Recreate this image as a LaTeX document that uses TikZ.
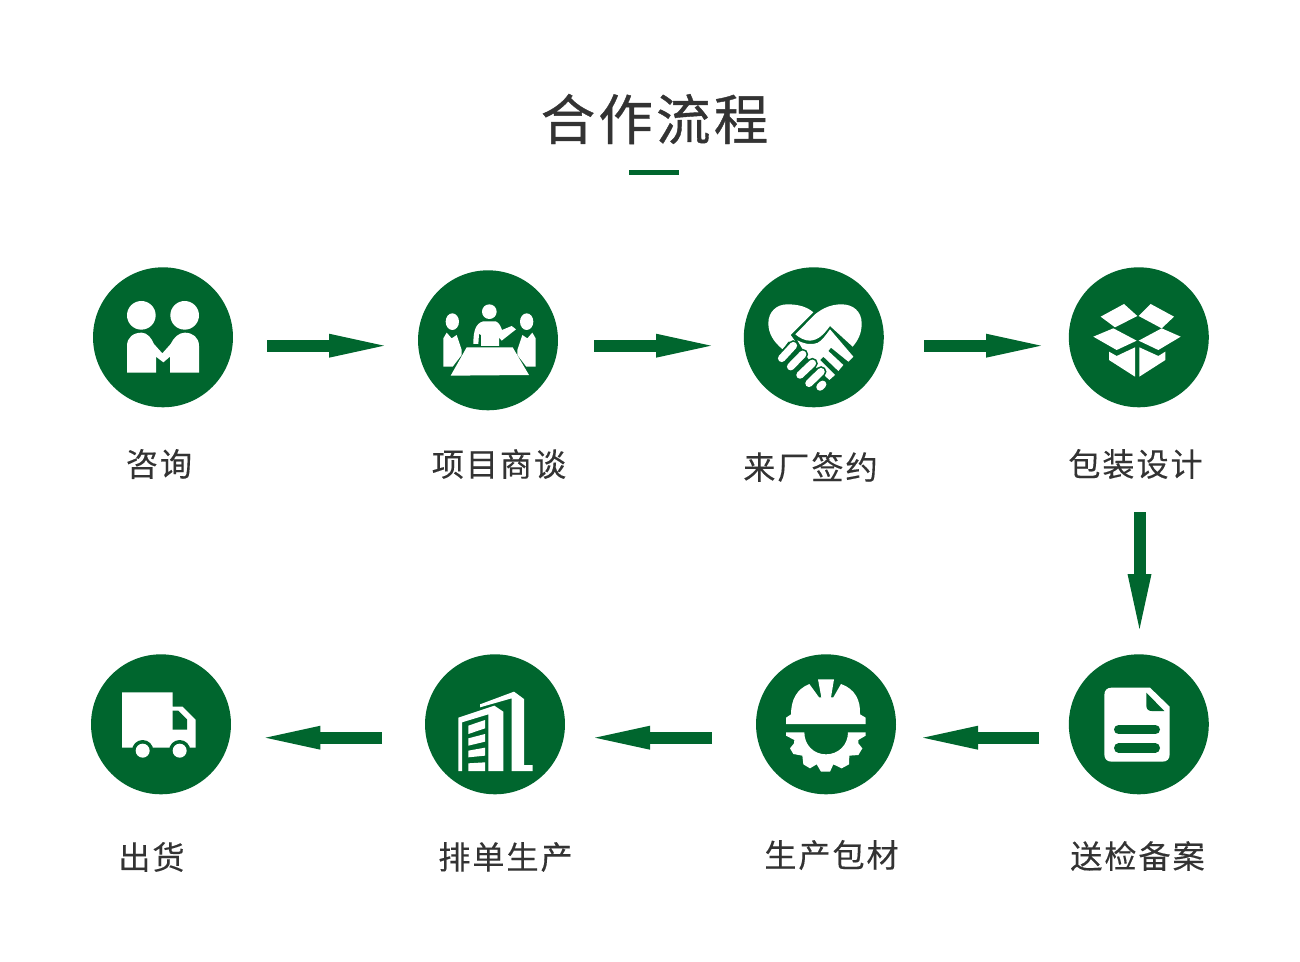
\documentclass[tikz,border=0pt]{standalone}
\usepackage{fontspec}
\usetikzlibrary{arrows.meta}
\newfontfamily\cjk[LetterSpace=6,FakeBold=0.25]{Noto Sans CJK SC}
\newfontfamily\cjktitle[LetterSpace=6,FakeBold=0.7]{Noto Sans CJK SC}
\definecolor{leaf}{HTML}{00662E}
\definecolor{ink}{HTML}{333333}

\tikzset{
	stepdisc/.style={circle,fill=leaf,inner sep=0,minimum size=2.8cm},
	steplabel/.style={text=ink,inner sep=0,font=\cjk\fontsize{18.3}{22}\selectfont},
	flowline/.style={draw=leaf,line width=0.24cm,-{Triangle[length=1.1cm,width=0.48cm,line width=0pt]}},
	finger/.style={white,line width=0.15cm,line cap=round},
	fingergap/.style={leaf,line width=0.22cm,line cap=round},
	iconA/.style={shift={(80,260)},scale=1/3},
	iconB/.style={shift={(730,260)},scale=1/3},
	iconC/.style={shift={(80,645)},scale=1/3},
	iconD/.style={shift={(745,645)},scale=1/3},
	iconE/.style={shift={(450,685)},scale=1/3},
	iconF/.style={shift={(760,295)},scale=1/3},
}

\begin{document}
\begin{tikzpicture}[x=0.02cm,y=-0.02cm]
	\useasboundingbox (0,0) rectangle (1300,962);

	\node[text=ink,inner sep=0,font=\cjktitle\fontsize{31}{36}\selectfont] (title) at (654.5,119) {合作流程};
	\node[fill=leaf,inner sep=0,minimum width=1cm,minimum height=0.1cm] (titlebar) at (654,173) {};

	% discs
	\node[stepdisc] (zixun) at (163,337.3) {};
	\node[stepdisc] (shangtan) at (488,340.3) {};
	\node[stepdisc] (qianyue) at (813.8,337.3) {};
	\node[stepdisc] (baozhuang) at (1138.8,337.3) {};
	\node[stepdisc] (songjian) at (1138.8,724.3) {};
	\node[stepdisc] (baocai) at (826,724.3) {};
	\node[stepdisc] (paidan) at (495,724.3) {};
	\node[stepdisc] (chuhuo) at (161,724.3) {};

	% labels
	\node[steplabel] (lzixun) at (159,464) {咨询};
	\node[steplabel] (lshangtan) at (499,464) {项目商谈};
	\node[steplabel] (lqianyue) at (810.5,467) {来厂签约};
	\node[steplabel] (lbaozhuang) at (1135.5,464) {包装设计};
	\node[steplabel] (lsongjian) at (1137.5,856) {送检备案};
	\node[steplabel] (lbaocai) at (831.5,855) {生产包材};
	\node[steplabel] (lpaidan) at (505.5,857) {排单生产};
	\node[steplabel] (lchuhuo) at (151.5,857) {出货};

	% arrows
	\coordinate (a1) at (267,345.7);
	\coordinate (a2) at (384,345.7);
	\coordinate (b1) at (594,345.7);
	\coordinate (b2) at (711,345.7);
	\coordinate (c1) at (924,345.7);
	\coordinate (c2) at (1041,345.7);
	\coordinate (d1) at (1139.5,512);
	\coordinate (d2) at (1139.5,629);
	\coordinate (e1) at (1039,737.7);
	\coordinate (e2) at (923,737.7);
	\coordinate (f1) at (712,737.7);
	\coordinate (f2) at (595,737.7);
	\coordinate (g1) at (382,737.7);
	\coordinate (g2) at (265.5,737.7);
	\foreach \s/\t in {a1/a2,b1/b2,c1/c2,d1/d2,e1/e2,f1/f2,g1/g2}
		\draw[flowline] (\s) -- (\t);

	% two people
	\begin{scope}[iconA]
		\fill[white] (184,166) circle[radius=43] (314,166) circle[radius=43];
		\fill[white] (141,338) -- (141,258) .. controls (141,232) and (160,218) .. (185,218)
			.. controls (202,218) and (215,235) .. (222,252) -- (247,280) -- (272,252)
			.. controls (280,235) and (295,218) .. (314,218) .. controls (338,218) and (357,232) .. (357,258)
			-- (357,338) -- (270,338) -- (270,290) -- (250,307) -- (228,290) -- (228,338) -- cycle;
	\end{scope}

	% meeting
	\begin{scope}[iconA]
		\fill[white] (1117,185) ellipse[x radius=20,y radius=25] (1340,185) ellipse[x radius=20,y radius=25];
		\fill[white] (1228,155) circle[radius=22];
		\fill[white] (1180,252) .. controls (1180,215) and (1186,190) .. (1210,184) -- (1247,184)
			.. controls (1257,188) and (1262,198) .. (1266,210) -- (1295,198) -- (1308,208) -- (1265,242)
			-- (1257,232) -- (1257,258) -- (1203,258) -- (1203,225) -- (1197,222) -- (1195,252) -- cycle;
		\fill[white] (1090,320) -- (1090,235) -- (1100,218) -- (1115,235) -- (1130,225) -- (1145,270) -- (1145,285) -- (1118,320) -- cycle;
		\fill[white] (1367,320) -- (1367,235) -- (1357,218) -- (1342,235) -- (1327,225) -- (1312,270) -- (1312,285) -- (1339,320) -- cycle;
		\fill[white] (1160,262) -- (1298,262) -- (1347,345) -- (1112,347) -- cycle;
	\end{scope}

	% handshake
	\begin{scope}[iconF]
		\fill[white] (68,163) .. controls (40,140) and (25,115) .. (25,85) .. controls (25,50) and (50,28) .. (82,28)
			.. controls (115,28) and (140,35) .. (160,52) -- (92,120) -- (108,142) -- (85,140) -- cycle;
		\fill[white] (106,118) -- (165,58) .. controls (190,38) and (215,28) .. (245,28)
			.. controls (280,28) and (305,50) .. (305,85) .. controls (305,115) and (295,135) .. (278,155)
			-- (210,93) .. controls (190,120) and (175,135) .. (150,137) .. controls (135,137) and (120,130) .. (106,118) -- cycle;
		\fill[white] (112,136) .. controls (135,148) and (155,150) .. (172,144) .. controls (185,138) and (198,120) .. (210,103)
			-- (280,185) -- (265,200) -- (213,158) -- (205,168) -- (250,210) -- (235,228) -- (190,185) -- (180,195)
			-- (225,240) -- (208,255) -- (150,200) -- cycle;
		\foreach \x/\y/\u/\v in {65/190/100/152,92/215/128/178,120/240/157/205,147/265/183/230} {
			\draw[fingergap] (\x,\y) -- (\u,\v);
		}
		\foreach \x/\y/\u/\v in {65/190/100/152,92/215/128/178,120/240/157/205,147/265/183/230,180/276/188/268} {
			\draw[finger] (\x,\y) -- (\u,\v);
		}
	\end{scope}

	% box
	\begin{scope}[iconB]
		\fill[white] (1182,132) -- (1222,168) -- (1155,202) -- (1112,170) -- cycle;
		\fill[white] (1262,132) -- (1332,170) -- (1295,205) -- (1226,168) -- cycle;
		\fill[white] (1150,205) -- (1220,242) -- (1160,270) -- (1090,230) -- cycle;
		\fill[white] (1295,205) -- (1352,230) -- (1285,270) -- (1226,242) -- cycle;
		\fill[white] (1137,275) -- (1160,288) -- (1215,262) -- (1215,350) -- (1137,300) -- cycle;
		\fill[white] (1228,262) -- (1285,288) -- (1306,275) -- (1306,300) -- (1228,350) -- cycle;
	\end{scope}

	% document
	\begin{scope}[iconD]
		\fill[white] (1078,150) .. controls (1078,136) and (1086,128) .. (1100,128) -- (1215,128) -- (1274,185) -- (1274,328)
			.. controls (1274,342) and (1266,350) .. (1252,350) -- (1100,350) .. controls (1086,350) and (1078,342) .. (1078,328) -- cycle;
		\fill[leaf] (1204,143) -- (1258,198) -- (1220,198) .. controls (1210,198) and (1204,192) .. (1204,182) -- cycle;
		\draw[leaf,line width=0.187cm,line cap=round] (1121,254) -- (1231,254) (1121,309) -- (1231,309);
	\end{scope}

	% helmet and gear
	\begin{scope}[iconD]
		\fill[white] (123,237) -- (123,218) -- (138,208) .. controls (138,165) and (155,132) .. (193,117) -- (222,157) -- (229,157)
			-- (219,103) -- (267,103) -- (258,157) -- (265,157) -- (288,117) .. controls (330,132) and (347,165) .. (345,208)
			-- (362,218) -- (362,237) -- cycle;
		\fill[white] (123,262) -- (123,272) -- (148,285) -- (147,295) -- (135,310) -- (145,327) -- (172,332) -- (175,358)
			-- (195,370) -- (215,358) -- (228,380) -- (255,380) -- (265,358) -- (290,370) -- (312,358) -- (313,332)
			-- (340,330) -- (352,310) -- (340,295) -- (340,285) -- (362,272) -- (362,262) -- (309,262)
			.. controls (309,300) and (280,328) .. (243,328) .. controls (206,328) and (178,300) .. (178,262) -- cycle;
	\end{scope}

	% truck
	\begin{scope}[iconC]
		\fill[white] (126,142) -- (278,142) -- (278,185) -- (308,185) -- (347,224) -- (347,308) -- (126,308) -- cycle;
		\fill[leaf] (188,317) circle[radius=32] (299,317) circle[radius=32];
		\fill[leaf] (278,197) -- (295,197) -- (321,223) -- (321,254) -- (278,254) -- cycle;
		\fill[white] (188,317) circle[radius=21] (299,317) circle[radius=21];
	\end{scope}

	% building
	\begin{scope}[iconE]
		\fill[white] (25,258) -- (25,98) -- (133,62) -- (160,80) -- (160,258) -- (115,258) -- (115,88) -- (36,112) -- (36,258) -- cycle;
		\fill[white] (55,122) -- (105,105) -- (105,130) -- (55,147) -- cycle;
		\fill[white] (55,160) -- (105,147) -- (105,170) -- (55,182) -- cycle;
		\fill[white] (55,197) -- (105,188) -- (105,212) -- (55,217) -- cycle;
		\fill[white] (55,235) -- (105,232) -- (105,258) -- (55,258) -- cycle;
		\fill[white] (90,58) -- (192,20) -- (222,42) -- (222,240) -- (248,240) -- (248,258) -- (185,258) -- (185,40) -- (90,67) -- cycle;
	\end{scope}
\end{tikzpicture}
\end{document}
